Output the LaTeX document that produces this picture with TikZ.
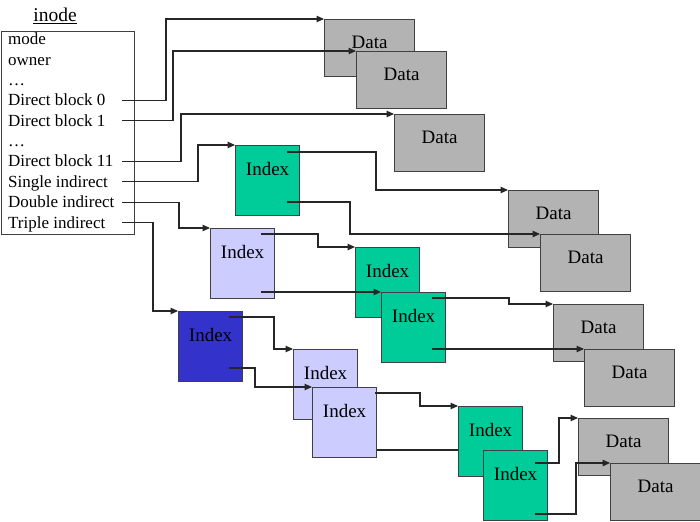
\documentclass[tikz,border=0pt]{standalone}
\usepackage{fontspec}
\setmainfont{Liberation Serif}
\usetikzlibrary{arrows.meta,calc}
\definecolor{datagray}{HTML}{B3B3B3}
\definecolor{idxgreen}{HTML}{00CC99}
\definecolor{idxlav}{HTML}{CCCCFF}
\definecolor{idxblue}{HTML}{3333CC}
\definecolor{bordc}{HTML}{404040}
\definecolor{linec}{HTML}{262626}
\pgfdeclarelayer{bg}
\pgfsetlayers{bg,main}
\begin{document}
\begin{tikzpicture}[x=1pt,y=-1pt,
  blk/.style={draw=bordc, line width=1.2pt, anchor=north west, inner sep=0pt},
  boxtext/.style={font=\fontsize{19}{22}\selectfont, inner sep=0pt},
  databox/.style={blk, fill=datagray, minimum width=90pt, minimum height=57pt,
    label={[boxtext, yshift=5.5pt]center:Data}},
  idxbox/.style={blk, minimum width=64pt, minimum height=70pt,
    label={[boxtext, yshift=12pt]center:Index}},
  row/.style={anchor=west, inner sep=0pt, text height=14pt, text depth=3pt,
    font=\fontsize{17}{20}\selectfont},
  conn/.style={draw=linec, line width=1.1pt, -{Triangle[length=7.5pt,width=6.5pt]}}
]
\useasboundingbox (0,0) rectangle (700,521);

% inode
\node[font=\fontsize{19.5}{22}\selectfont, inner sep=0pt] (title) at (55,16) {\underline{inode}};
\node[draw=bordc, line width=1.2pt, fill=white, anchor=north west, minimum width=133pt, minimum height=203pt, inner sep=0pt] (inode) at (1,31) {};
\node[row] (r0) at (8,39.5) {mode};
\node[row] (r1) at (8,59.8) {owner};
\node[row] (r2) at (8,80.2) {\dots};
\node[row] (r3) at (8,100.5) {Direct block 0};
\node[row] (r4) at (8,120.8) {Direct block 1};
\node[row] (r5) at (8,141.2) {\dots};
\node[row] (r6) at (8,161.5) {Direct block 11};
\node[row] (r7) at (8,181.8) {Single indirect};
\node[row] (r8) at (8,202.2) {Double indirect};
\node[row] (r9) at (8,222.5) {Triple indirect};
\coordinate (ix) at (122,0);

% blocks
\node[databox] (d1) at (324,19) {};
\node[databox] (d2) at (356,51) {};
\node[databox] (d3) at (394,114) {};
\node[idxbox, fill=idxgreen] (i1) at (235,145) {};
\node[databox] (d4) at (508,190) {};
\node[databox] (d5) at (540,234) {};
\node[idxbox, fill=idxlav] (i2) at (210,228) {};
\node[idxbox, fill=idxgreen] (i3) at (355,247) {};
\node[idxbox, fill=idxgreen] (i4) at (381,292) {};
\node[databox] (d6) at (553,304) {};
\node[databox] (d7) at (584,349) {};
\node[idxbox, fill=idxblue] (i5) at (178,311) {};
\node[idxbox, fill=idxlav] (i6) at (293,349) {};
\node[idxbox, fill=idxlav] (i7) at (312,387) {};
\node[idxbox, fill=idxgreen] (i8) at (458,406) {};
\node[idxbox, fill=idxgreen] (i9) at (483,450) {};
\node[databox] (d8) at (578,418) {};
\node[databox] (d9) at (610,463) {};

% start points inside index blocks
\coordinate (a1) at (287,152);
\coordinate (a2) at (287,202);
\coordinate (b1) at (261,234);
\coordinate (b2) at (261,292);
\coordinate (c1) at (432,298);
\coordinate (c2) at (432,349);
\coordinate (e1) at (229,317);
\coordinate (e2) at (229,368);
\coordinate (f1) at (375,393);
\coordinate (f2) at (375,450);
\coordinate (g1) at (535,463);
\coordinate (g2) at (535,514);

% connectors from inode
\draw[conn] (r3.west -| ix) -| ([xshift=-158pt]d1.north west) -- (d1.north west);
\draw[conn] (r4.west -| ix) -| ([xshift=-183pt]d2.north west) -- (d2.north west);
\draw[conn] (r6.west -| ix) -| ([xshift=-213pt]d3.north west) -- (d3.north west);
\draw[conn] (r7.west -| ix) -| ([xshift=-37pt]i1.north west) -- (i1.north west);
\draw[conn] (r8.west -| ix) -| ([xshift=-31pt]i2.north west) -- (i2.north west);
\draw[conn] (r9.west -| ix) -| ([xshift=-25pt]i5.north west) -- (i5.north west);

% single indirect
\draw[conn] (a1) -| ([xshift=-132pt]d4.north west) -- (d4.north west);
\draw[conn] (a2) -| ([xshift=-190pt]d5.north west) -- (d5.north west);

% double indirect
\draw[conn] (b1) -| ([xshift=-37pt]i3.north west) -- (i3.north west);
\draw[conn] (b2) -- (i4.north west);
\draw[conn] (c1) -| ([xshift=-44pt]d6.north west) -- (d6.north west);
\draw[conn] (c2) -- (d7.north west);

% triple indirect
\draw[conn] (e1) -| ([xshift=-19pt]i6.north west) -- (i6.north west);
\draw[conn] (e2) -| ([xshift=-57pt]i7.north west) -- (i7.north west);
\draw[conn] (f1) -| ([xshift=-38pt]i8.north west) -- (i8.north west);
\begin{pgfonlayer}{bg}
\draw[conn] (f2) -- (i9.north west);
\end{pgfonlayer}
\draw[conn] (g1) -| ([xshift=-19pt]d8.north west) -- (d8.north west);
\draw[conn] (g2) -| ([xshift=-34pt]d9.north west) -- (d9.north west);
\end{tikzpicture}
\end{document}
